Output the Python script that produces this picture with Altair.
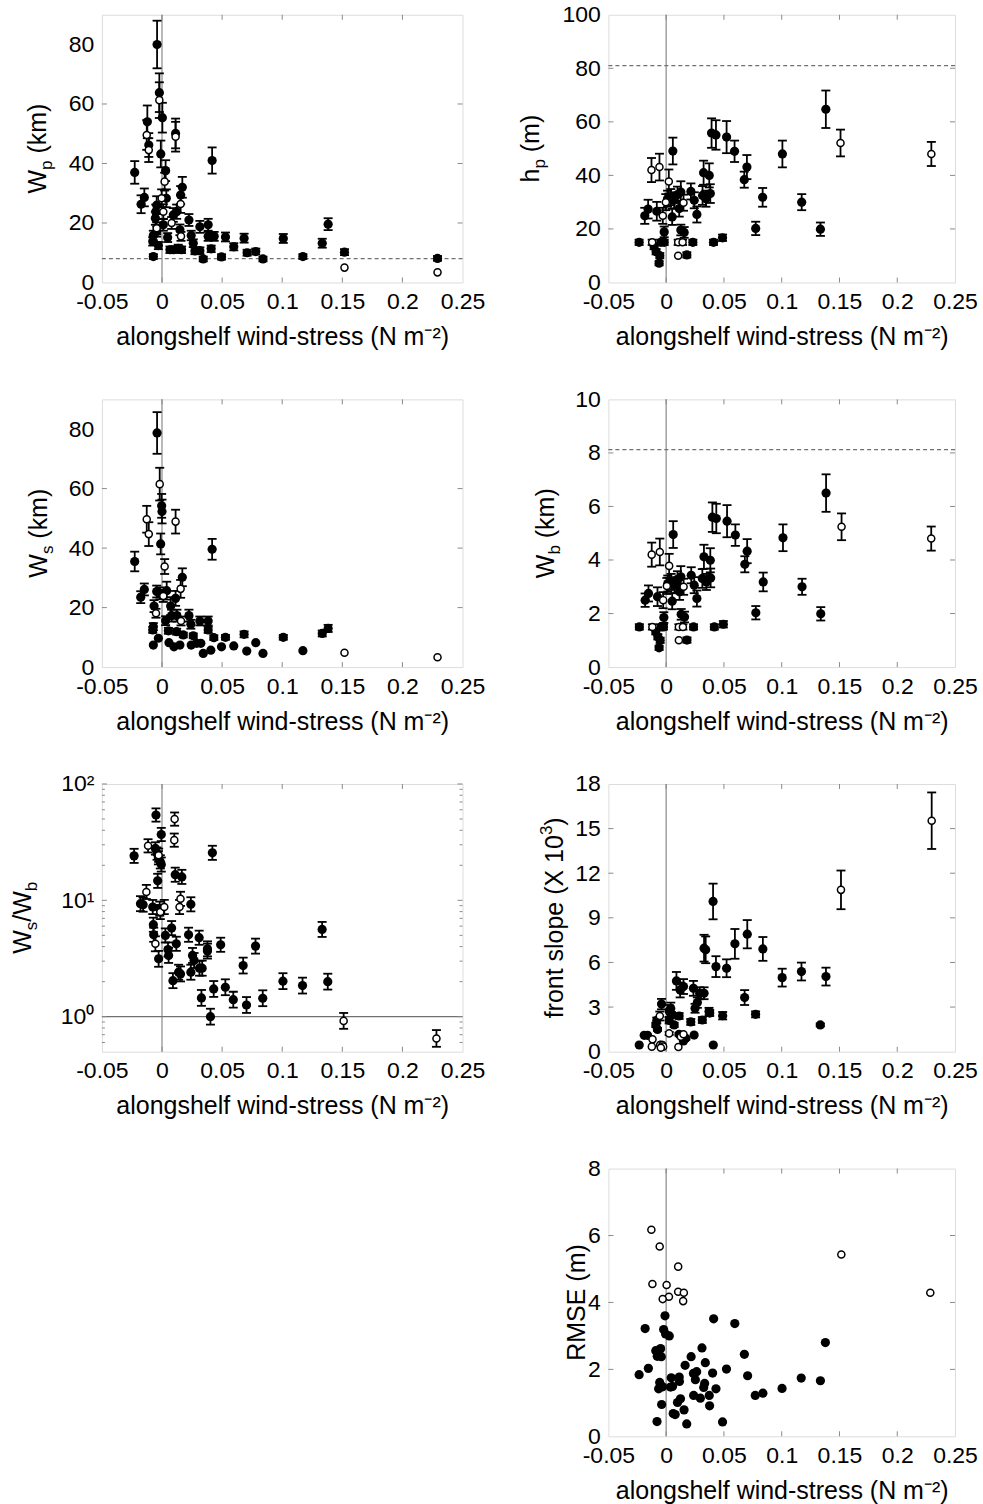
import altair as alt
import pandas as pd

# ---------------- data ----------------
XTICKS = [-0.05, 0, 0.05, 0.1, 0.15, 0.2, 0.25]

# Panel 1: W_p (km)
P1_FX = [-0.0041,-0.0022,0.0003,-0.0122,-0.0110,-0.0010,-0.0227,0.0030,0.0417,0.0113,-0.0147,-0.0174,0.0169,0.0155,0.0036,-0.0044,0.0224,0.0315,0.0384,0.0384,0.0434,0.0528,0.0597,0.0683,0.0708,0.0780,0.0840,0.1009,0.1172,0.1333,0.1382,0.1518,0.2292,-0.0072,-0.0077,-0.0072,-0.0055,-0.0052,-0.0044,-0.0030,0.0047,0.0011,0.0066,0.0094,0.0135,0.0149,0.0163,0.0243,0.0260,0.0274,0.0315,0.0343,0.0409,0.0495,0.0094,0.0122]
P1_FY = [80,63.8,55.4,54,46.2,43.2,37,37.6,41,50.1,28.6,26.3,32,29.4,28.3,26,21,18.7,19.4,15.5,15.5,15.3,12,14.9,10,10.4,7.9,14.8,8.7,13.2,19.6,10.2,8.1,8.7,13.8,15.8,21.6,23.8,17.1,12.4,15.1,19.4,11,11,11.5,17.7,11,15.8,13.2,10.6,10.7,7.9,11.3,8.6,22.7,23.8]
P1_FE = [8,6.5,5,5.5,4,4.5,3.8,3.5,4.4,5,3,3,3.5,3,3,3,2,2,2,1.5,1.5,1.5,1.2,1.5,1,1,0.8,1.5,0.8,1.5,2,1,0.8,0.8,1.4,1.6,2.2,2.4,1.7,1.2,1.5,2,1.1,1.1,1.2,1.8,1.1,1.6,1.3,1.1,1.1,0.8,1.1,0.9,2.3,2.4]
P1_OX = [-0.0022,-0.0127,-0.0110,0.0113,0.0022,0.0155,0.0011,-0.0044,0.0158,0.1518,0.2292,0.0080,-0.0003]
P1_OY = [61.3,49.6,44.5,49,33.9,26.4,23.8,18.2,15.5,5,3.4,20,28.3]
P1_OE = [6,5,4,5,3,3,2.5,2,1.5,0,0,2,3]
P1_REF = 8.0

# Panel 2: h_p (m)
P2_FX = [-0.0234,-0.0185,-0.0156,-0.0081,-0.0104,-0.0087,-0.0061,-0.0055,-0.0017,-0.0017,-0.0046,0.0058,0.0052,0.0012,0.0040,0.0069,0.0098,0.0127,0.0113,0.0127,0.0156,0.0179,0.0214,0.0231,0.0243,0.0266,0.0315,0.0324,0.0344,0.0373,0.0382,0.0410,0.0393,0.0431,0.0488,0.0523,0.0592,0.0676,0.0699,0.0775,0.0835,0.1006,0.1173,0.1335,0.1382]
P2_FY = [15,24.9,27.4,26.6,13.4,11.5,7.2,10,18.9,15,15,49.1,24.5,31.3,31.9,30.7,32.8,33.8,27.6,19.6,18.7,10.3,34,15,30.7,25.4,32.5,41,31.3,40,33.2,15,55.8,55.1,16.7,54.3,49,38.4,43.1,20.2,31.8,48,30,19.9,64.7]
P2_FE = [1,3,3.5,3.5,1,1,0.8,1,2,1,1,5,3,3,3,3,3,4,3,2,2,1,3,1,3,3,3.5,4.5,3,4.5,3.5,1,5.5,5.5,1.2,6,4,3,4.5,2.5,3.5,5,3,2.5,7]
P2_OX = [-0.0127,-0.0058,0.0023,-0.0121,-0.0029,-0.0003,0.0104,0.0142,0.0104,0.0150,0.1509,0.2295]
P2_OY = [42,43.1,37.7,15,24.9,30,15,15,10,29.8,52.1,48]
P2_OE = [4.5,5,4.5,1,3,3,1,1,0,3,5,4.5]
P2_REF = 81.0

# Panel 3: W_s (km)
P3_FX = [-0.0041,-0.0003,0.0000,-0.0011,-0.0227,0.0417,-0.0147,-0.0177,0.0169,-0.0044,-0.0017,0.0039,-0.0066,0.0072,0.0113,0.0080,0.0124,0.0224,0.0240,0.0315,0.0384,0.0384,0.0030,-0.0072,-0.0077,0.0053,0.0122,0.0177,0.0260,0.0431,0.0528,0.0683,0.1009,0.1333,0.1382,-0.0072,-0.0030,0.0058,0.0100,0.0149,0.0243,0.0288,0.0323,0.0343,0.0406,0.0495,0.0597,0.0705,0.0780,0.0840,0.1172]
P3_FY = [78.7,54.2,52.3,41.4,35.5,39.6,26.1,23.5,30.2,25.4,24.8,25.7,20.5,20.5,23.1,17.3,17.3,17.3,14.4,15.5,15.5,12.5,15.6,13.6,12.5,12.2,11.9,10.8,10.5,9.9,10,11,10,11.3,13,7.4,9.7,8.2,6.8,7.4,7.4,8,8,4.6,5.7,6.8,7.1,5.4,8.2,4.6,5.5]
P3_FE = [7,4,4,3.5,3.3,3.5,2,2,3,2,2,3,2,3,2.5,2,2,2,1.5,1.5,1.5,1,1.5,1.2,1,1,1,0.8,0.8,0.8,0.8,1,0.8,1,1.2,0,0,0,0,0,0,0,0,0,0,0,0,0,0,0,0]
P3_OX = [-0.0019,-0.0127,-0.0110,0.0113,0.0022,0.0155,0.0011,-0.0050,0.0158,0.1518,0.2292]
P3_OY = [61.5,49.7,44.7,48.9,33.8,26.3,23.9,18.1,15.5,4.8,3.3]
P3_OE = [5.5,4.5,4,4,2.5,3,2,1.5,1.5,0,0]

# Panel 4: W_b (km)
P4_FX = [-0.0232,-0.0182,-0.0153,-0.0075,-0.0090,-0.0072,-0.0061,-0.0052,-0.0020,-0.0023,-0.0045,0.0061,0.0052,0.0014,0.0043,0.0072,0.0098,0.0127,0.0116,0.0130,0.0159,0.0180,0.0217,0.0237,0.0243,0.0266,0.0313,0.0327,0.0348,0.0382,0.0385,0.0417,0.0400,0.0434,0.0495,0.0527,0.0599,0.0681,0.0701,0.0776,0.0840,0.1011,0.1176,0.1338,0.1384]
P4_FY = [1.5,2.5,2.75,2.63,1.32,1.13,0.72,1.0,1.85,1.5,1.5,4.95,2.46,3.12,3.18,3.06,3.28,3.37,2.81,1.97,1.87,1.01,3.43,1.5,3.06,2.56,3.31,4.12,3.18,3.99,3.33,1.5,5.6,5.55,1.6,5.45,4.93,3.84,4.33,2.03,3.18,4.83,3.0,1.99,6.5]
P4_FE = [0.1,0.25,0.3,0.35,0.1,0.1,0.08,0.1,0.2,0.1,0.1,0.5,0.3,0.3,0.3,0.3,0.3,0.4,0.3,0.2,0.2,0.1,0.3,0.1,0.3,0.3,0.35,0.45,0.3,0.45,0.35,0.1,0.55,0.55,0.12,0.6,0.4,0.3,0.45,0.25,0.35,0.5,0.3,0.25,0.7]
P4_OX = [-0.0125,-0.0055,0.0026,-0.0119,-0.0026,0.0006,0.0110,0.0145,0.0110,0.0151,0.1518,0.2294]
P4_OY = [4.2,4.3,3.78,1.5,2.5,3.03,1.5,1.5,1.0,3.0,5.24,4.8]
P4_OE = [0.45,0.5,0.45,0.1,0.3,0.3,0.1,0.1,0,0.3,0.5,0.45]
P4_REF = 8.12

# Panel 5: W_s / W_b (log), error given as relative fraction
P5_FX = [-0.0050,-0.0006,-0.0232,-0.0055,-0.0041,-0.0030,-0.0014,-0.0006,0.0419,-0.0036,0.0110,0.0165,-0.0179,-0.0157,-0.0077,-0.0019,0.0240,-0.0072,-0.0069,-0.0028,0.0028,0.0080,0.0119,0.0050,0.0055,0.0091,0.0138,0.0154,0.0221,0.0240,0.0254,0.0267,0.0309,0.0312,0.0334,0.0378,0.0378,0.0328,0.0430,0.0488,0.0527,0.0403,0.0593,0.0703,0.0675,0.0778,0.0838,0.1006,0.1169,0.1332,0.1379]
P5_FY = [54.1,36.8,24.1,27.9,25.2,23.2,21.4,20.3,25.6,14.7,16.6,15.9,9.36,9.18,8.76,8.48,9.24,6.17,5.06,3.14,4.99,5.77,4.23,3.78,3.36,2.04,2.41,2.33,5.06,2.41,3.36,3.04,4.77,2.61,2.61,3.66,3.83,1.45,1.73,4.15,1.79,1.0,1.40,1.26,2.75,4.04,1.44,2.02,1.85,5.62,2.0]
P5_FE = [0.14,0.14,0.15,0.13,0.13,0.14,0.14,0.15,0.15,0.15,0.15,0.15,0.16,0.15,0.15,0.15,0.15,0.15,0.15,0.17,0.15,0.15,0.15,0.15,0.16,0.16,0.16,0.16,0.15,0.16,0.16,0.16,0.15,0.16,0.16,0.16,0.16,0.17,0.17,0.15,0.17,0.17,0.17,0.17,0.17,0.16,0.17,0.17,0.17,0.16,0.17]
P5_OX = [0.0105,0.0102,-0.0116,-0.0028,-0.0130,-0.0014,0.0019,0.0146,0.0154,-0.0055,0.1511,0.2283]
P5_OY = [49.9,32.9,29.4,24.4,11.8,7.93,8.76,8.76,10.3,4.23,0.92,0.65]
P5_OE = [0.14,0.14,0.14,0.14,0.15,0.15,0.15,0.15,0.15,0.16,0.17,0.18]
P5_REF = 1.0
P5_YTICKS = [1, 10, 100]
P5_MINOR = [0.6,0.7,0.8,0.9,2,3,4,5,6,7,8,9,20,30,40,50,60,70,80,90]

# Panel 6: front slope (x 10^3)
P6_FX = [-0.0233,-0.0190,-0.0161,-0.0089,-0.0081,-0.0075,-0.0040,-0.0046,0.0026,0.0040,0.0046,0.0026,0.0069,0.0089,0.0112,0.0121,0.0150,0.0112,0.0150,0.0170,0.0213,0.0236,0.0250,0.0270,0.0242,0.0290,0.0328,0.0313,0.0328,0.0342,0.0371,0.0377,0.0408,0.0406,0.0431,0.0489,0.0523,0.0595,0.0702,0.0679,0.0774,0.0837,0.1004,0.1171,0.1334,0.1383]
P6_FY = [0.45,1.1,1.1,1.8,2.1,1.5,3.2,0.45,2.74,2.9,2.47,2.1,1.8,4.76,2.4,4.15,4.38,1.17,0.72,0.9,2.0,4.26,2.92,3.3,1.12,3.93,3.93,2.13,6.96,6.85,2.7,2.6,0.45,10.1,5.72,2.42,5.61,7.25,7.9,3.64,2.51,6.91,4.98,5.39,1.8,5.05]
P6_FE = [0,0,0,0.15,0.2,0.1,0.35,0,0.4,0.4,0.2,0.2,0.15,0.6,0.2,0.5,0.5,0.1,0,0.1,0.2,0.5,0.3,0.35,0,0.4,0.4,0.2,0.9,0.9,0.25,0.2,0,1.2,0.7,0.25,0.6,1.0,0.95,0.5,0.2,0.8,0.6,0.6,0.1,0.6]
P6_OX = [-0.0055,-0.0118,-0.0124,-0.0052,-0.0032,-0.0026,-0.0046,0.0026,0.0106,0.0127,0.0150,0.1513,0.2298]
P6_OY = [2.4,0.83,0.34,0.45,0.45,0.34,0.27,1.23,0.31,1.0,1.17,10.88,15.53]
P6_OE = [0.3,0,0,0,0,0,0,0.1,0,0,0,1.3,1.9]

# Panel 7: RMSE (m)
P7_FX = [-0.0234,-0.0182,-0.0154,-0.0079,-0.0090,-0.0048,-0.0077,-0.0042,-0.0056,-0.0065,-0.0039,-0.0030,-0.0010,-0.0022,-0.0005,0.0027,0.0044,0.0038,0.0055,0.0061,0.0078,0.0098,0.0113,0.0115,0.0124,0.0155,0.0164,0.0178,0.0216,0.0236,0.0238,0.0253,0.0264,0.0296,0.0310,0.0325,0.0333,0.0339,0.0373,0.0376,0.0402,0.0411,0.0431,0.0488,0.0522,0.0594,0.0677,0.0705,0.0771,0.0837,0.1003,0.1169,0.1335,0.1378]
P7_FY = [1.84,3.22,2.03,0.44,2.56,2.62,2.39,2.38,1.61,1.42,0.95,1.48,3.60,3.19,3.06,3.00,1.75,1.47,1.49,0.68,0.65,1.01,1.77,1.64,1.12,0.79,2.12,0.37,2.38,1.88,1.22,1.69,1.93,1.14,2.64,1.46,1.58,2.20,1.22,0.91,1.89,3.51,1.42,0.43,2.01,3.37,2.45,1.81,1.22,1.29,1.43,1.74,1.66,2.80]
P7_OX = [-0.0128,-0.0056,0.0104,-0.0119,0.0004,0.0104,0.0153,0.0024,-0.0030,0.0147,0.1516,0.2286]
P7_OY = [6.17,5.67,5.07,4.55,4.52,4.32,4.29,4.17,4.10,4.04,5.43,4.29]

# ---------------- style ----------------
FONT = "Liberation Sans"
GRAY = "#8a8a8a"
TICK_FS = 23
TITLE_FS = 25
SUB_FS = 17
XTITLE = "alongshelf wind-stress (N m⁻²)"
XLAB = "datum.value < 0 ? '-' + format(-datum.value, '~g') : format(datum.value, '~g')"
WL, WR, H = 361, 347, 268
TL = 5  # inward tick length

AW = {"W": 944, "h": 556, "p": 556, "s": 500, "b": 556, " ": 278, "(": 333, ")": 333,
      "k": 500, "m": 833, "/": 278, "f": 278, "r": 333, "o": 556, "n": 556, "t": 278,
      "l": 222, "e": 556, "X": 667, "1": 556, "0": 556, "3": 556, "R": 722, "M": 833,
      "S": 667, "E": 667}


def seg_w(text, fs):
    return sum(AW.get(c, 556) for c in text) / 1000.0 * fs


def ytitle_layers(segs, xoff):
    one = pd.DataFrame({"a": [0]})
    sizes = {"n": TITLE_FS, "sub": SUB_FS, "sup": SUB_FS}
    shifts = {"n": 0, "sub": 6, "sup": -11}
    total = sum(seg_w(t, sizes[k]) for t, k in segs)
    pos = -total / 2.0
    layers = []
    for t, k in segs:
        lead = len(t) - len(t.lstrip(" "))
        shown = t.lstrip(" ")
        start = pos + seg_w(" " * lead, sizes[k])
        layers.append(
            alt.Chart(one).mark_text(
                angle=270, align="left", baseline="alphabetic", font=FONT,
                fontSize=sizes[k], color="black", dx=start, dy=shifts[k]
            ).encode(x=alt.value(xoff), y=alt.value(H / 2), text=alt.value(shown))
        )
        pos += seg_w(t, sizes[k])
    return layers


def panel(w, fx, fy, fe, ox, oy, oe, ydom, yticks, segs, title_x,
          ref=None, dashed=True, log=False, minor=None, ylabexpr=None,
          fsize=85, osize=50, errors=True):
    xs = alt.Scale(domain=[-0.05, 0.25], nice=False, zero=False)
    if log:
        ys = alt.Scale(type="log", domain=ydom, nice=False)
    else:
        ys = alt.Scale(domain=ydom, nice=False, zero=False)
    xaxis = alt.Axis(values=XTICKS, labelExpr=XLAB, title=XTITLE, labelFontSize=TICK_FS,
                     titleFontSize=TITLE_FS, titleFontWeight="normal", labelFont=FONT,
                     titleFont=FONT, labelColor="black", titleColor="black", ticks=False,
                     domain=False, grid=False, labelPadding=8, titlePadding=11,
                     labelFlush=False, labelOverlap=False)
    yaxis = alt.Axis(values=yticks, labelExpr=ylabexpr or "format(datum.value, '~g')",
                     title=None, labelFontSize=TICK_FS, labelFont=FONT, labelColor="black",
                     ticks=False, domain=False, grid=False, labelPadding=8,
                     labelOverlap=False, labelFlush=False)

    def X(f):
        return alt.X(f, type="quantitative", scale=xs, axis=xaxis)

    def Y(f):
        return alt.Y(f, type="quantitative", scale=ys, axis=yaxis)

    layers = []
    # zero line
    layers.append(alt.Chart(pd.DataFrame({"v": [0.0]})).mark_rule(color=GRAY, strokeWidth=1.2)
                  .encode(x=X("v")))
    # reference line
    if ref is not None:
        rl = alt.Chart(pd.DataFrame({"v": [ref]}))
        if dashed:
            rl = rl.mark_rule(color="#707070", strokeWidth=1.2, strokeDash=[4, 3])
        else:
            rl = rl.mark_rule(color="#707070", strokeWidth=1.2)
        layers.append(rl.encode(y=Y("v")))
    # inward ticks
    xt = pd.DataFrame({"v": XTICKS[1:-1]})
    layers.append(alt.Chart(xt).mark_rule(color=GRAY, strokeWidth=1)
                  .encode(x=X("v"), y=alt.value(H), y2=alt.value(H - TL)))
    layers.append(alt.Chart(xt).mark_rule(color=GRAY, strokeWidth=1)
                  .encode(x=X("v"), y=alt.value(0), y2=alt.value(TL)))
    yt = pd.DataFrame({"v": yticks[1:-1] if not log else yticks})
    layers.append(alt.Chart(yt).mark_rule(color=GRAY, strokeWidth=1)
                  .encode(y=Y("v"), x=alt.value(0), x2=alt.value(TL)))
    layers.append(alt.Chart(yt).mark_rule(color=GRAY, strokeWidth=1)
                  .encode(y=Y("v"), x=alt.value(w), x2=alt.value(w - TL)))
    if minor:
        mt = pd.DataFrame({"v": minor})
        layers.append(alt.Chart(mt).mark_rule(color=GRAY, strokeWidth=1)
                      .encode(y=Y("v"), x=alt.value(0), x2=alt.value(3)))
        layers.append(alt.Chart(mt).mark_rule(color=GRAY, strokeWidth=1)
                      .encode(y=Y("v"), x=alt.value(w), x2=alt.value(w - 3)))
    # error bars
    if errors:
        xs_all = list(fx) + list(ox)
        ys_all = list(fy) + list(oy)
        es_all = list(fe) + list(oe)
        rows = []
        for a, b, e in zip(xs_all, ys_all, es_all):
            if e > 0:
                if log:
                    rows.append({"x": a, "lo": b / (1 + e), "hi": b * (1 + e)})
                else:
                    rows.append({"x": a, "lo": b - e, "hi": b + e})
        ed = pd.DataFrame(rows)
        base = alt.Chart(ed)
        layers.append(base.mark_rule(color="black", strokeWidth=1.8)
                      .encode(x=X("x"), y=Y("lo"), y2="hi"))
        layers.append(base.mark_tick(orient="horizontal", size=9, thickness=1.8, color="black", opacity=1)
                      .encode(x=X("x"), y=Y("lo")))
        layers.append(base.mark_tick(orient="horizontal", size=9, thickness=1.8, color="black", opacity=1)
                      .encode(x=X("x"), y=Y("hi")))
    # points
    fd = pd.DataFrame({"x": fx, "y": fy})
    od = pd.DataFrame({"x": ox, "y": oy})
    layers.append(alt.Chart(fd).mark_point(shape="circle", filled=True, color="black",
                                           size=fsize, opacity=1)
                  .encode(x=X("x"), y=Y("y")))
    layers.append(alt.Chart(od).mark_point(shape="circle", fill="white", stroke="black",
                                           strokeWidth=1.5, size=osize, opacity=1,
                                           fillOpacity=1)
                  .encode(x=X("x"), y=Y("y")))
    layers += ytitle_layers(segs, title_x)
    return alt.layer(*layers).properties(width=w, height=H)


p1 = panel(WL, P1_FX, P1_FY, P1_FE, P1_OX, P1_OY, P1_OE, [0, 90], [0, 20, 40, 60, 80],
           [("W", "n"), ("p", "sub"), (" (km)", "n")], -56, ref=P1_REF)
p2 = panel(WR, P2_FX, P2_FY, P2_FE, P2_OX, P2_OY, P2_OE, [0, 100], [0, 20, 40, 60, 80, 100],
           [("h", "n"), ("p", "sub"), (" (m)", "n")], -69, ref=P2_REF)
p3 = panel(WL, P3_FX, P3_FY, P3_FE, P3_OX, P3_OY, P3_OE, [0, 90], [0, 20, 40, 60, 80],
           [("W", "n"), ("s", "sub"), (" (km)", "n")], -55)
p4 = panel(WR, P4_FX, P4_FY, P4_FE, P4_OX, P4_OY, P4_OE, [0, 10], [0, 2, 4, 6, 8, 10],
           [("W", "n"), ("b", "sub"), (" (km)", "n")], -54, ref=P4_REF)
p5 = panel(WL, P5_FX, P5_FY, P5_FE, P5_OX, P5_OY, P5_OE, [0.5, 100], P5_YTICKS,
           [("W", "n"), ("s", "sub"), ("/W", "n"), ("b", "sub")], -71, ref=P5_REF,
           dashed=False, log=True, minor=P5_MINOR,
           ylabexpr="datum.value == 1 ? '10⁰' : (datum.value == 10 ? '10¹' : '10²')")
p6 = panel(WR, P6_FX, P6_FY, P6_FE, P6_OX, P6_OY, P6_OE, [0, 18], [0, 3, 6, 9, 12, 15, 18],
           [("front slope (X 10", "n"), ("3", "sup"), (")", "n")], -45)
p7 = panel(WR, P7_FX, P7_FY, [0] * len(P7_FX), P7_OX, P7_OY, [0] * len(P7_OX), [0, 8],
           [0, 2, 4, 6, 8], [("RMSE (m)", "n")], -23, errors=False, fsize=85, osize=50)

blank = alt.Chart(pd.DataFrame({"a": [0]})).mark_point(opacity=0).encode(
    x=alt.X("a:Q", axis=None), y=alt.Y("a:Q", axis=None)
).properties(width=WL, height=H, view=alt.ViewBackground(stroke="transparent"))

chart = alt.concat(p1, p2, p3, p4, p5, p6, blank, p7, columns=2,
                   spacing={"row": 117, "column": 146}, bounds="flush").properties(
    padding={"left": 10, "top": 2, "right": 5, "bottom": 5}
).configure_view(stroke=GRAY, strokeWidth=1.2).configure(background="white")

chart.save("out.html", embed_options={"renderer": "svg", "actions": False})
